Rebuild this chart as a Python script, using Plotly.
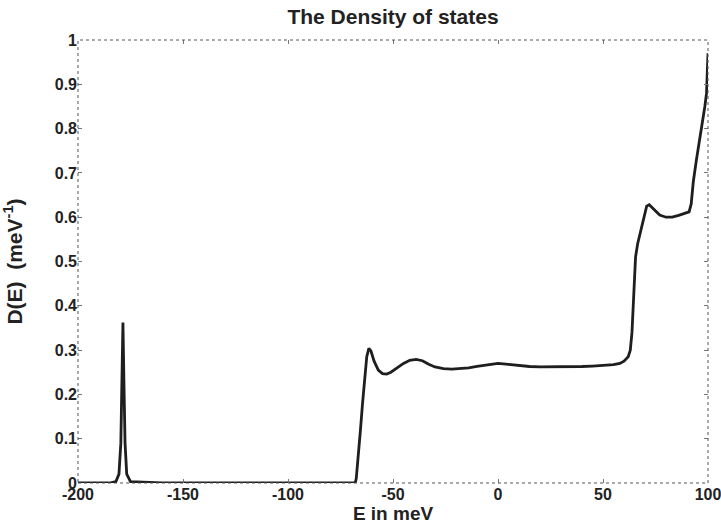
import plotly.graph_objects as go

# Energy (meV) and density of states (1/meV)
E = [-200, -185, -182, -180.5, -179.6, -179.1, -178.6, -178.1, -177.6, -176.8, -175, -160,
     -100, -68, -67.5, -66.5, -65.5, -64.5, -63.5, -62.5, -61.5, -60.5, -59, -57, -55, -53,
     -51, -48, -45, -42, -39, -36, -33, -30, -26, -22, -18, -14, -10, -5, 0, 5, 10, 15,
     20, 25, 30, 35, 40, 45, 50, 55, 58, 60, 62, 63, 63.8, 64.3, 64.8, 65.5, 66.5,
     68, 69.5, 70.8, 72, 74, 77, 80, 83, 86, 89, 91, 92, 93, 94.5, 96, 97.5, 98.5,
     99.3, 100]
D = [0, 0, 0.003, 0.02, 0.09, 0.22, 0.362, 0.22, 0.09, 0.02, 0.003, 0,
     0, 0, 0.01, 0.06, 0.12, 0.18, 0.24, 0.285, 0.304, 0.298, 0.275, 0.255, 0.247, 0.246,
     0.25, 0.26, 0.27, 0.277, 0.279, 0.276, 0.268, 0.262, 0.258, 0.257, 0.258, 0.26, 0.263, 0.267, 0.27, 0.268, 0.265, 0.263,
     0.262, 0.262, 0.262, 0.263, 0.263, 0.264, 0.265, 0.267, 0.27, 0.275, 0.285, 0.3, 0.34, 0.4, 0.46, 0.51, 0.54,
     0.57, 0.6, 0.625, 0.628, 0.618, 0.605, 0.6, 0.6, 0.604, 0.608, 0.612, 0.63, 0.68, 0.73, 0.78, 0.82, 0.85,
     0.88, 0.97]

x_ticks = [-200, -150, -100, -50, 0, 50, 100]
y_ticks = [0, 0.1, 0.2, 0.3, 0.4, 0.5, 0.6, 0.7, 0.8, 0.9, 1]
y_labels = ["0", "0.1", "0.2", "0.3", "0.4", "0.5", "0.6", "0.7", "0.8", "0.9", "1"]

FONT = "Liberation Sans, Arial, Helvetica"
fig = go.Figure()
fig.add_trace(go.Scatter(x=E, y=D, mode="lines",
                         line=dict(color="#1e1e1e", width=2.8), showlegend=False))

font_tick = dict(family=FONT, size=16, color="#222")
fig.update_layout(
    width=721, height=527,
    margin=dict(l=78, r=13, t=40, b=44),
    paper_bgcolor="white", plot_bgcolor="white",
    title=dict(text="<b>The Density of states</b>", xref="paper", x=0.5, xanchor="center",
               yref="container", y=1 - 17 / 527, yanchor="middle",
               font=dict(family=FONT, size=21, color="#222")),
    xaxis=dict(range=[-200, 100], tickvals=x_ticks, ticktext=[f"<b>{v}</b>" for v in x_ticks],
               ticks="inside", ticklen=4, tickcolor="#777", mirror="ticks",
               showgrid=False, zeroline=False, showline=False, tickfont=font_tick,
               automargin=False, ticklabeloverflow="allow",
               title=dict(text="<b>E in meV</b>", standoff=0,
                          font=dict(family=FONT, size=19, color="#222"))),
    yaxis=dict(range=[0, 1], tickvals=y_ticks, ticktext=[f"<b>{t}</b>" for t in y_labels],
               ticks="inside", ticklen=4, tickcolor="#777", mirror="ticks",
               showgrid=False, zeroline=False, showline=False, tickfont=font_tick,
               automargin=False, ticklabeloverflow="allow",
               title=dict(text="<b>D(E)  (meV<sup>-1</sup>)</b>", standoff=34,
                          font=dict(family=FONT, size=21, color="#222"))),
    shapes=[dict(type="rect", xref="paper", yref="paper", x0=0, y0=0, x1=1, y1=1,
                 line=dict(color="#555", width=1, dash="dot"), layer="above")],
)

fig.write_html("out.html", config={"displayModeBar": False},
               post_script="document.body.style.margin='0';document.body.style.padding='0';")
